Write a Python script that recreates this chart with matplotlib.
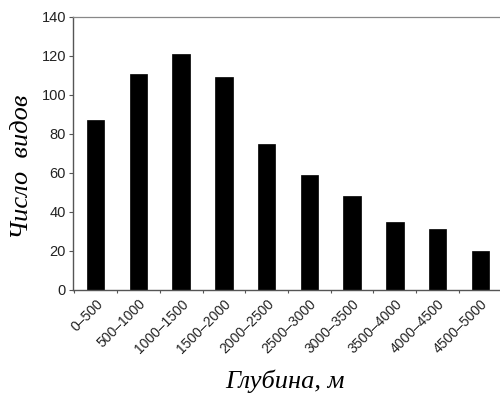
import matplotlib
matplotlib.use("Agg")
import matplotlib.pyplot as plt

categories = ["0–500", "500–1000", "1000–1500", "1500–2000", "2000–2500",
              "2500–3000", "3000–3500", "3500–4000", "4000–4500", "4500–5000"]
species = [87, 111, 121, 109, 75, 59, 48, 35, 31, 20]
yticks = [0, 20, 40, 60, 80, 100, 120, 140]

fig = plt.figure(figsize=(5.0, 3.95), dpi=100)
ax = fig.add_axes([0.146, 0.266, 0.86, 0.691])

x = list(range(len(categories)))
ax.bar(x, species, width=0.41, color="black", edgecolor="black", linewidth=0.5)

ax.set_xlim(-0.53, 9.53)
ax.set_ylim(0, 140)
ax.set_yticks(yticks)
ax.set_xticks(x)
ax.set_xticklabels(categories, rotation=45, ha="right", rotation_mode="anchor",
                   fontsize=10, family="Liberation Sans", color="#222222")
ax.set_xticks([i + 0.5 for i in range(-1, 10)], minor=True)
ax.tick_params(axis="x", which="major", length=0, pad=5)
ax.tick_params(axis="x", which="minor", length=2.5, width=0.8, color="#555555")
ax.tick_params(axis="y", length=3, width=0.8, color="#555555", pad=2,
               labelsize=10.5, labelcolor="#222222")
for lab in ax.get_yticklabels():
    lab.set_family("Liberation Sans")

for s in ["left", "bottom"]:
    ax.spines[s].set_color("#555555")
    ax.spines[s].set_linewidth(1.0)
ax.spines["top"].set_color("#888888")
ax.spines["top"].set_linewidth(0.9)
ax.spines["right"].set_visible(False)

ax.set_ylabel("Число  видов", family="Liberation Serif", style="italic",
              fontsize=19)
ax.yaxis.set_label_coords(-0.093, 0.45)
ax.set_xlabel("Глубина, м", family="Liberation Serif", style="italic",
              fontsize=19)
ax.xaxis.set_label_coords(0.493, -0.29)

fig.savefig("out.png", dpi=100)
